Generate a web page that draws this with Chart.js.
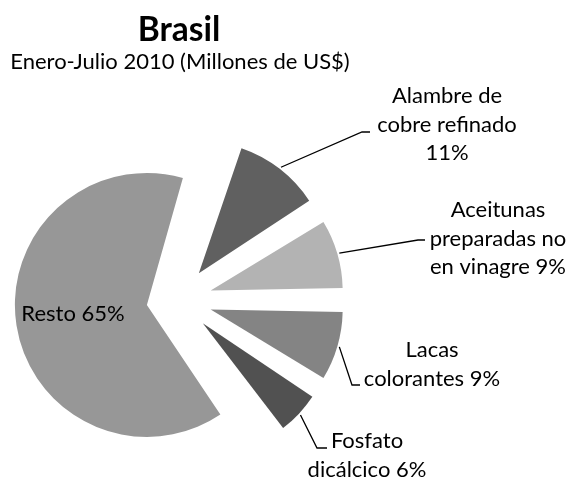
<!DOCTYPE html>
<html>
<head>
<meta charset="utf-8">
<script src="https://cdn.jsdelivr.net/npm/chart.js@4.4.1/dist/chart.umd.min.js"></script>
<style>
  html, body { margin: 0; padding: 0; background: #fff; }
  #box { width: 576px; height: 480px; }
</style>
</head>
<body>
<div id="box"><canvas id="pie"></canvas></div>
<script>
const chartTitle = 'Brasil';
const chartSubtitle = 'Enero-Julio 2010 (Millones de US$)';
const categories = ['Alambre de cobre refinado', 'Aceitunas preparadas no en vinagre', 'Lacas colorantes', 'Fosfato dicálcico', 'Resto'];
const shares = [11, 9, 9, 6, 65];
const sliceColors = ['#606060', '#b3b3b3', '#848484', '#515151', '#979797'];
const sliceOffsets = [136, 136, 136, 136, 126];

// where each label sits (elbow of the leader line, text block centre, first baseline)
const labelLayout = [
  { elbow: [362, 132], end: [370, 132], cx: 447, base: 103, wrap: 160 },
  { elbow: [418, 240], end: [425, 240], cx: 498, base: 217, wrap: 140 },
  { elbow: [352, 385], end: [360, 385], cx: 432, base: 357, wrap: 140 },
  { elbow: [317, 448], end: [327, 448], cx: 367, base: 448, wrap: 130 },
  { inside: true, cx: 73, base: 321 }
];

const FONT = 'Lato, "Open Sans", sans-serif';

function wrapText(ctx, text, maxW) {
  const words = text.split(' ');
  const lines = [];
  let cur = '';
  words.forEach(w => {
    const test = cur ? cur + ' ' + w : w;
    if (cur && ctx.measureText(test).width > maxW) {
      lines.push(cur);
      cur = w;
    } else {
      cur = test;
    }
  });
  if (cur) lines.push(cur);
  return lines;
}

// Chart.js grows the radius of exploded slices; keep every slice at the pie radius
const keepRadius = {
  id: 'keepRadius',
  beforeDatasetsDraw(chart) {
    const meta = chart.getDatasetMeta(0);
    const baseR = meta.controller.outerRadius;
    meta.data.forEach((arc, i) => {
      const shift = sliceOffsets[i] / 4;
      const fix = 1 - Math.sin(Math.min(Math.PI, arc.circumference));
      arc.outerRadius = baseR - shift * fix;
    });
  }
};

const labelPlugin = {
  id: 'pieLabels',
  afterDatasetsDraw(chart) {
    const ctx = chart.ctx;
    const meta = chart.getDatasetMeta(0);
    const baseR = meta.controller.outerRadius;
    ctx.save();

    // titles
    ctx.fillStyle = '#000';
    ctx.textAlign = 'center';
    ctx.textBaseline = 'alphabetic';
    ctx.font = 'bold 33.5px ' + FONT;
    ctx.fillText(chartTitle, 179, 41);
    ctx.font = '22px ' + FONT;
    ctx.fillText(chartSubtitle, 180, 69);

    ctx.font = '22px ' + FONT;
    meta.data.forEach((arc, i) => {
      const lay = labelLayout[i];
      const text = categories[i] + ' ' + shares[i] + '%';
      const lines = lay.inside ? [text] : wrapText(ctx, text, lay.wrap);
      if (!lay.inside) {
        const p = arc.getProps(['x', 'y', 'startAngle', 'endAngle']);
        const mid = (p.startAngle + p.endAngle) / 2;
        const shift = sliceOffsets[i] / 4;
        const r = baseR + 2;
        const ax = p.x + Math.cos(mid) * (shift + r);
        const ay = p.y + Math.sin(mid) * (shift + r);
        ctx.beginPath();
        ctx.strokeStyle = '#000';
        ctx.lineWidth = 1.3;
        ctx.moveTo(ax, ay);
        ctx.lineTo(lay.elbow[0], lay.elbow[1]);
        ctx.lineTo(lay.end[0], lay.end[1]);
        ctx.stroke();
      }
      ctx.fillStyle = '#000';
      lines.forEach((ln, k) => ctx.fillText(ln, lay.cx, lay.base + k * 28.5));
    });
    ctx.restore();
  }
};

new Chart(document.getElementById('pie'), {
  type: 'pie',
  data: {
    labels: categories,
    datasets: [{
      data: shares,
      backgroundColor: sliceColors,
      borderWidth: 0,
      offset: sliceOffsets,
      clip: false
    }]
  },
  options: {
    responsive: true,
    maintainAspectRatio: false,
    animation: false,
    rotation: 18,
    radius: 132,
    layout: { padding: { left: 0, right: 220, top: 120, bottom: 0 } },
    plugins: {
      legend: { display: false },
      tooltip: { enabled: false },
      title: { display: false }
    }
  },
  plugins: [keepRadius, labelPlugin]
});
</script>
</body>
</html>
